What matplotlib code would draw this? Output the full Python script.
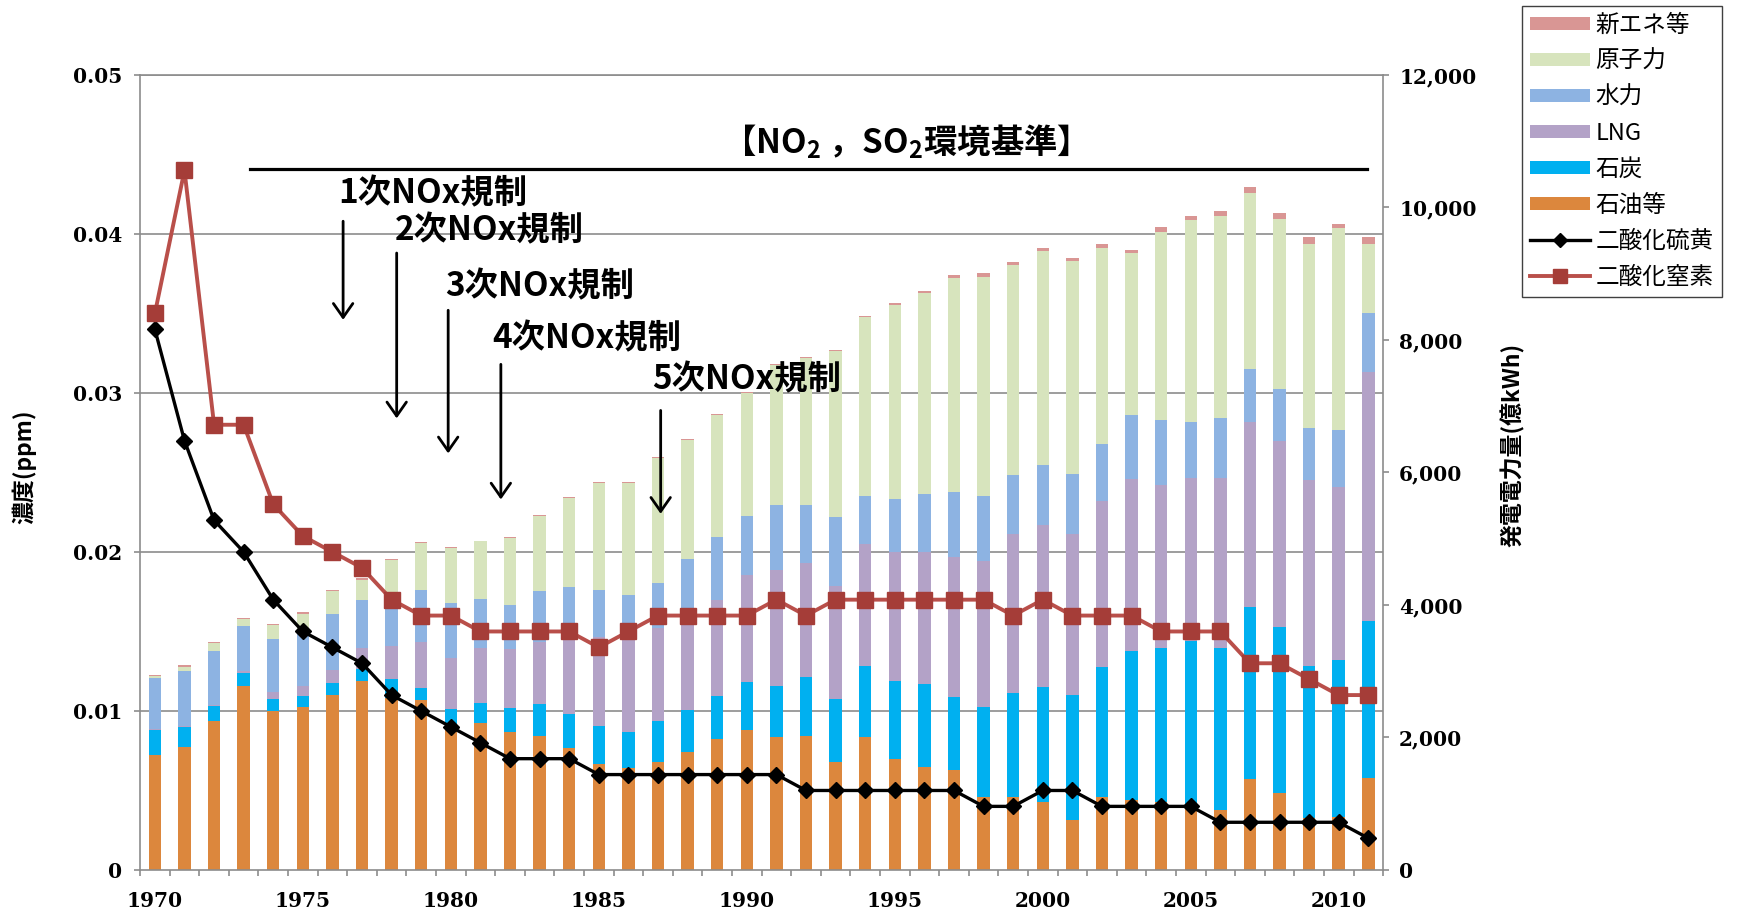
import numpy as np
import matplotlib
matplotlib.use("Agg")
import matplotlib.pyplot as plt
from matplotlib.patches import Patch
from matplotlib.lines import Line2D
from matplotlib.ticker import FuncFormatter

plt.rcParams["font.family"] = ["Noto Sans CJK JP", "DejaVu Sans"]
plt.rcParams["mathtext.default"] = "regular"

# years on the category axis
YEARS = list(range(1970, 2012))

# generation by source (億kWh), bottom to top
OIL = [1730, 1860, 2245, 2775, 2404, 2457, 2643, 2855, 2590, 2563,
       2166, 2219, 2087, 2018, 1840, 1595, 1535, 1630, 1775, 1971,
       2110, 2005, 2019, 1635, 2003, 1669, 1548, 1510, 1097, 1097,
       1030, 761, 1097, 1063, 1030, 996, 908, 1366, 1164, 790,
       794, 1386]
COAL = [380, 295, 223, 196, 175, 170, 185, 185, 291, 186,
        265, 307, 360, 492, 510, 575, 545, 620, 640, 659,
        730, 774, 895, 942, 1072, 1177, 1265, 1102, 1366, 1568,
        1729, 1884, 1965, 2241, 2321, 2456, 2443, 2604, 2503, 2290,
        2369, 2369]
LNG = [20, 25, 22, 29, 111, 148, 185, 318, 503, 688,
       768, 832, 884, 927, 1200, 1350, 1420, 1400, 1339, 1449,
       1610, 1750, 1716, 1716, 1845, 1952, 1985, 2118, 2200, 2402,
       2443, 2422, 2510, 2591, 2456, 2469, 2570, 2793, 2813, 2800,
       2624, 3755]
HYDRO = [762, 823, 815, 686, 800, 821, 858, 715, 556, 794,
         831, 730, 662, 768, 720, 705, 648, 686, 941, 953,
         900, 975, 874, 1030, 732, 807, 875, 982, 976, 895,
         908, 908, 854, 969, 989, 842, 896, 794, 774, 786,
         861, 901]
NUCLEAR = [42, 63, 116, 95, 201, 275, 334, 307, 742, 699,
           826, 874, 1021, 1139, 1350, 1620, 1693, 1879, 1795, 1830,
           1850, 2120, 2221, 2503, 2688, 2928, 3041, 3223, 3311, 3163,
           3230, 3210, 2968, 2442, 2833, 3048, 3048, 2658, 2570, 2784,
           3042, 1030]
NEW_ENERGY = [16, 27, 27, 27, 21, 21, 21, 20, 18, 16,
              16, 11, 16, 16, 15, 15, 15, 15, 15, 15,
              15, 15, 15, 15, 20, 20, 20, 40, 67, 47,
              54, 54, 47, 47, 81, 67, 80, 87, 88, 100,
              67, 114]

# concentrations (ppm)
SO2 = [0.034, 0.027, 0.022, 0.020, 0.017, 0.015, 0.014, 0.013, 0.011, 0.010,
       0.009, 0.008, 0.007, 0.007, 0.007, 0.006, 0.006, 0.006, 0.006, 0.006,
       0.006, 0.006, 0.005, 0.005, 0.005, 0.005, 0.005, 0.005, 0.004, 0.004,
       0.005, 0.005, 0.004, 0.004, 0.004, 0.004, 0.003, 0.003, 0.003, 0.003,
       0.003, 0.002]
NO2 = [0.035, 0.044, 0.028, 0.028, 0.023, 0.021, 0.020, 0.019, 0.017, 0.016,
       0.016, 0.015, 0.015, 0.015, 0.015, 0.014, 0.015, 0.016, 0.016, 0.016,
       0.016, 0.017, 0.016, 0.017, 0.017, 0.017, 0.017, 0.017, 0.017, 0.016,
       0.017, 0.016, 0.016, 0.016, 0.015, 0.015, 0.015, 0.013, 0.013, 0.012,
       0.011, 0.011]

BAR_LABELS = ["石油等", "石炭", "LNG", "水力", "原子力", "新エネ等"]
BAR_COLORS = ["#DC873D", "#00B0F0", "#B3A2C7", "#8DB3E2", "#D7E4BD", "#D99694"]

KWH_MAX = 12000
PPM_MAX = 0.05
X_LABEL_YEARS = [1970, 1975, 1980, 1985, 1990, 1995, 2000, 2005, 2010]

# regulation notes: label, text centre (x, y), arrow x, arrow top, arrow tip
REGULATIONS = [
    ("1次NOx規制", 9.4, 0.0425, 6.36, 0.0408, 0.0346),
    ("2次NOx規制", 11.3, 0.0402, 8.17, 0.0388, 0.0284),
    ("3次NOx規制", 13.0, 0.0367, 9.91, 0.0352, 0.0262),
    ("4次NOx規制", 14.6, 0.0334, 11.69, 0.0318, 0.0233),
    ("5次NOx規制", 20.0, 0.0308, 17.09, 0.0289, 0.0224),
]
STANDARD_TEXT = "【NO$_2$ ，SO$_2$環境基準】"
STANDARD_FROM, STANDARD_TO, STANDARD_Y = 1973, 2011, 0.0441

GRID = "#8c8c8c"
TICK_FONT = dict(family="DejaVu Serif", weight="bold", size=14.5)

fig = plt.figure(figsize=(17.38, 9.15), dpi=100)
ax = fig.add_axes([0.0806, 0.0492, 0.7152, 0.8689])
ax2 = ax.twinx()

x = np.arange(len(YEARS))
bottom = np.zeros(len(YEARS))
for values, color in zip([OIL, COAL, LNG, HYDRO, NUCLEAR, NEW_ENERGY], BAR_COLORS):
    ax.bar(x, values, width=0.42, bottom=bottom, color=color, linewidth=0, zorder=2)
    bottom += np.array(values)

ppm_ticks = np.round(np.arange(0, PPM_MAX + 0.001, 0.01), 3)
for t in ppm_ticks[1:]:
    ax.axhline(t / PPM_MAX * KWH_MAX, color=GRID, lw=1.2, zorder=1)

ax.set_xlim(-0.5, len(YEARS) - 0.5)
ax.set_ylim(0, KWH_MAX)
ax2.set_ylim(0, PPM_MAX)

# lines
ax2.plot(x, SO2, color="black", lw=2.4, marker="D", ms=8.5, zorder=3)
ax2.plot(x, NO2, color="#B94F4A", lw=2.8, marker="s", ms=11.5,
         mfc="#A53D38", mec="#A53D38", zorder=4)

# x axis: tick marks between categories, labels under every 5th year
ax.set_xticks(np.arange(len(YEARS) + 1) - 0.5)
ax.set_xticklabels([])
ax.set_xticks([YEARS.index(y) for y in X_LABEL_YEARS], minor=True)
ax.set_xticklabels([str(y) for y in X_LABEL_YEARS], minor=True, fontdict=TICK_FONT)
ax.tick_params(axis="x", which="major", length=4.5, width=1.2, color=GRID, direction="out")
ax.tick_params(axis="x", which="minor", length=0, pad=15)

# right axis (generation)
ax.yaxis.tick_right()
ax.set_yticks(range(0, KWH_MAX + 1, 2000))
ax.set_yticklabels([f"{v:,}" for v in range(0, KWH_MAX + 1, 2000)], fontdict=TICK_FONT)
ax.tick_params(axis="y", length=4.5, width=1.2, color=GRID, pad=7)

# left axis (concentration)
ax2.yaxis.tick_left()
ax2.set_yticks(ppm_ticks)
ax2.set_yticklabels(["0" if t == 0 else f"{t:.2f}" for t in ppm_ticks], fontdict=TICK_FONT)
ax2.tick_params(axis="y", length=4.5, width=1.2, color=GRID, pad=8.4)

for s in ax.spines.values():
    s.set_color(GRID)
    s.set_linewidth(1.2)
for s in ax2.spines.values():
    s.set_visible(False)

fig.text(24 / 1738, 1 - 467 / 915, "濃度(ppm)", rotation=90,
         ha="center", va="center", fontsize=16.5, fontweight="bold")
fig.text(1513 / 1738, 1 - 445 / 915, "発電電力量(億kWh)", rotation=90,
         ha="center", va="center", fontsize=16.5, fontweight="bold")

# environmental standard bar and regulation arrows
i0 = YEARS.index(STANDARD_FROM) + 0.2
i1 = YEARS.index(STANDARD_TO) - 0.05
ax2.plot([i0, i1], [STANDARD_Y, STANDARD_Y], color="black", lw=2.3, zorder=5)
ax2.text(25.05, 0.0458, STANDARD_TEXT, ha="center", va="center",
         fontsize=24, fontweight="bold", zorder=6)

for label, tx, ty, axx, ytop, ytip in REGULATIONS:
    ax2.text(tx, ty, label, ha="center", va="center", fontsize=24,
             fontweight="bold", zorder=6)
    ax2.annotate("", xy=(axx, ytip), xytext=(axx, ytop),
                 arrowprops=dict(arrowstyle="->, head_length=0.5, head_width=0.35",
                                 lw=2, color="black", mutation_scale=20,
                                 shrinkA=0, shrinkB=0), zorder=6)

# legend
handles = [Patch(facecolor=c, edgecolor="none") for c in BAR_COLORS[::-1]]
handles += [
    Line2D([], [], color="black", lw=2.4, marker="D", ms=7),
    Line2D([], [], color="#B94F4A", lw=2.8, marker="s", ms=10, mfc="#A53D38", mec="#A53D38"),
]
labels = BAR_LABELS[::-1] + ["二酸化硫黄", "二酸化窒素"]
leg = fig.legend(handles, labels, loc="upper left",
                 bbox_to_anchor=(1522 / 1738, 1 - 5.5 / 915),
                 fontsize=17, handlelength=2.55, handleheight=0.5,
                 handletextpad=0.2, labelspacing=0.55, borderpad=0.35,
                 borderaxespad=0, fancybox=False, framealpha=1)
leg.get_frame().set_edgecolor("#404040")
leg.get_frame().set_linewidth(1.0)

fig.savefig("out.png", dpi=100, facecolor="white")
